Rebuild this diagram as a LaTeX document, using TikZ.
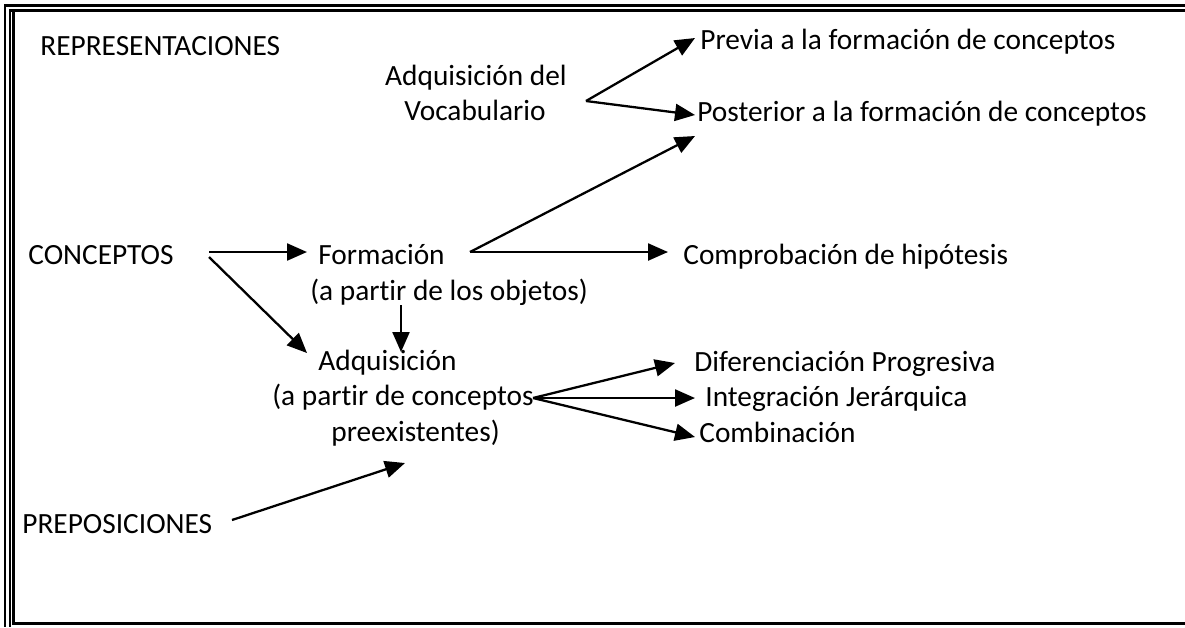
\documentclass[tikz,border=0pt]{standalone}
\usepackage{fontspec}
\setmainfont{Carlito}[Ligatures={NoCommon}]
\usetikzlibrary{arrows.meta}
\begin{document}
\begin{tikzpicture}[x=0.02cm,y=-0.02cm,
  lbl/.style={inner sep=0pt,anchor=base west,font=\fontsize{16.7}{20}\selectfont},
  clbl/.style={inner sep=0pt,anchor=base,font=\fontsize{16.7}{20}\selectfont},
  arr/.style={line width=1.3pt,-{Triangle[length=4mm,width=3.4mm]}},
  frame/.style={line width=1.2pt}]
\useasboundingbox (0,0) rectangle (1185,627);
% frame
\draw[line width=1.4pt] (1185,5.5) -- (5,5.5) -- (5,627);
\draw[frame] (1185,10.5) -- (10,10.5) -- (10,627);
\draw[frame] (13.5,10.5) -- (13.5,623.5) -- (1185,623.5);
% texts
\node[lbl] (rep) at (40,55) {REPRESENTACIONES};
\node[clbl] (adv1) at (476,85) {Adquisición del};
\node[clbl] (adv2) at (475,120) {Vocabulario};
\node[lbl] (prev) at (700,49) {Previa a la formación de conceptos};
\node[lbl] (post) at (697,121) {Posterior a la formación de conceptos};
\node[lbl] (con) at (28,264) {CONCEPTOS};
\node[lbl] (for1) at (318,264) {Formación};
\node[lbl] (for2) at (310,300) {(a partir de los objetos)};
\node[lbl] (comp) at (683,264) {Comprobación de hipótesis};
\node[lbl] (adq1) at (318,370) {Adquisición};
\node[lbl] (adq2) at (272,405) {(a partir de conceptos};
\node[lbl] (adq3) at (331,441) {preexistentes)};
\node[lbl] (dif) at (694,371) {Diferenciación Progresiva};
\node[lbl] (int) at (705,406) {Integración Jerárquica};
\node[lbl] (comb) at (699,442) {Combinación};
\node[lbl] (pre) at (22,533) {PREPOSICIONES};
% connector points
\coordinate (vocout) at (586,101);
\coordinate (previn) at (695,38);
\coordinate (postin) at (695,115);
\coordinate (postin2) at (695,136);
\coordinate (conout1) at (209,252);
\coordinate (conout2) at (209,257);
\coordinate (forin) at (307,252);
\coordinate (adqin) at (307,353);
\coordinate (forout) at (470,252);
\coordinate (compin) at (668,252);
\coordinate (fordown) at (401,305);
\coordinate (adqtop) at (401,352);
\coordinate (adqout) at (533,398);
\coordinate (difin) at (675,363);
\coordinate (intin) at (695,398);
\coordinate (combin) at (695,437);
\coordinate (preout) at (232,520);
\coordinate (adqbot) at (405,463);
% arrows
\draw[arr] (vocout) -- (previn);
\draw[arr] (vocout) -- (postin);
\draw[arr] (forout) -- (postin2);
\draw[arr] (forout) -- (compin);
\draw[arr] (conout1) -- (forin);
\draw[arr] (conout2) -- (adqin);
\draw[arr] (fordown) -- (adqtop);
\draw[arr] (adqout) -- (difin);
\draw[arr] (adqout) -- (intin);
\draw[arr] (adqout) -- (combin);
\draw[arr] (preout) -- (adqbot);
\end{tikzpicture}
\end{document}
